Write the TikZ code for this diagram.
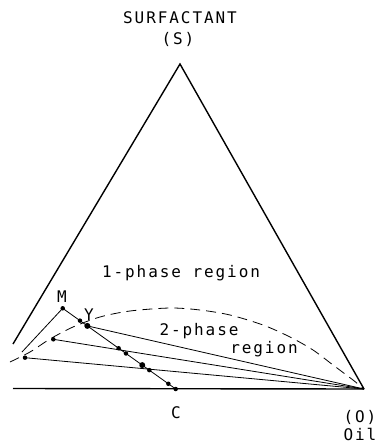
\documentclass[tikz,border=0pt]{standalone}
\usepackage{fontspec}
\usetikzlibrary{calc}
\newfontfamily\lab[LetterSpace=12]{DejaVu Sans Mono}
\begin{document}
\begin{tikzpicture}[x=1pt,y=-1pt,
  side/.style={line width=1.4pt},
  tie/.style={line width=0.8pt},
  dotpt/.style={circle,fill,inner sep=0pt,minimum size=4.5pt},
  bigdot/.style={circle,fill,inner sep=0pt,minimum size=6pt},
  lbl/.style={font=\lab\fontsize{16}{18}\selectfont, inner sep=0pt}]
\useasboundingbox (0,0) rectangle (380,446);
% triangle
\coordinate (S) at (180,64);
\coordinate (O) at (364,389);
\coordinate (L) at (13,344);
\coordinate (B) at (13,388.5);
\draw[side] (L) -- (S) -- (O);
\draw[side] (B) -- (O);
% binodal
\draw[line width=0.8pt, dash pattern=on 10pt off 6pt] plot[smooth] coordinates
  {(10,362) (30,352) (50,339) (73,327) (100,317) (130,311) (170,308) (200,310)
   (230,315) (263,325) (290,337) (313,350) (333,365) (353,380) (364,389)};
% M - C line
\coordinate (M) at (62.7,308.3);
\coordinate (C) at (175.7,389);
\coordinate (ML) at (22,352);
\draw[tie] (ML) -- (M) -- (C);
\node[dotpt] (m) at (M) {};
\node[dotpt] (p1) at ($(M)!0.153!(C)$) {};
\node[bigdot] (y) at ($(M)!0.218!(C)$) {};
\node[dotpt] (a2) at ($(M)!0.495!(C)$) {};
\node[dotpt] (b2) at ($(M)!0.560!(C)$) {};
\node[bigdot] (a3) at ($(M)!0.704!(C)$) {};
\node[dotpt] (b3) at ($(M)!0.766!(C)$) {};
\node[dotpt] (p4) at ($(M)!0.935!(C)$) {};
\node[dotpt] (c) at (C) {};
% tie lines
\node[dotpt] (t2) at (53.3,339.3) {};
\node[dotpt] (t3) at (25,357.7) {};
\draw[tie] (y.center) -- (O);
\draw[tie] (t2.center) -- (O);
\draw[tie] (t3.center) -- (O);
% labels
\node[lbl] (surf) at (180,18) {SURFACTANT};
\node[lbl] (s) at (178,39) {(S)};
\node[lbl] (one) at (181,273) {1-phase region};
\node[lbl] (two) at (199,331) {2-phase};
\node[lbl] (reg) at (264,349) {region};
\node[lbl] (ml) at (62,297) {M};
\node[lbl] (yl) at (89,315) {Y};
\node[lbl] (cl) at (176,413) {C};
\node[lbl] (ol) at (360,417) {(O)};
\node[lbl] (oil) at (360,434) {Oil};
\end{tikzpicture}
\end{document}
